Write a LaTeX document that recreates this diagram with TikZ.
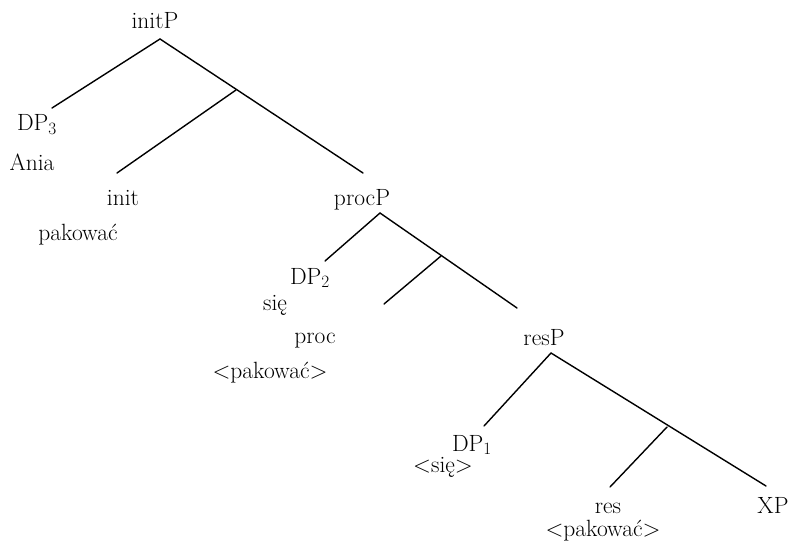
\documentclass[tikz,border=0pt]{standalone}
\begin{document}
\begin{tikzpicture}[x=1pt,y=-1pt,
  lbl/.style={anchor=base,inner sep=0pt,font=\fontsize{23.5}{27}\selectfont},
  branch/.style={line width=1.4pt,line cap=round}]
\useasboundingbox (0,0) rectangle (791,540);
% labels
\node[lbl] (initP) at (155,29) {initP};
\node[lbl] (dp3) at (37,131) {DP$_3$};
\node[lbl] (ania) at (32,170) {Ania};
\node[lbl] (init) at (123,205) {init};
\node[lbl] (pak1) at (78,240) {pakować};
\node[lbl] (procP) at (362,205) {procP};
\node[lbl] (dp2) at (310,284) {DP$_2$};
\node[lbl] (sie1) at (275,310) {się};
\node[lbl] (proc) at (315,343) {proc};
\node[lbl] (pak2) at (270,378) {<pakować>};
\node[lbl] (resP) at (544,345) {resP};
\node[lbl] (dp1) at (472,451) {DP$_1$};
\node[lbl] (sie2) at (443,472) {<się>};
\node[lbl] (res) at (608,513) {res};
\node[lbl] (pak3) at (603,536) {<pakować>};
\node[lbl] (xp) at (773,513) {XP};
% branch points
\coordinate (a0) at (160,39);
\coordinate (a1) at (52,108);
\coordinate (a2) at (363,173);
\coordinate (a3) at (236,90);
\coordinate (a4) at (117,173);
\coordinate (b0) at (380,213);
\coordinate (b1) at (325,261);
\coordinate (b2) at (517,308);
\coordinate (b3) at (441,256);
\coordinate (b4) at (384,304);
\coordinate (c0) at (551,353);
\coordinate (c1) at (484,426);
\coordinate (c2) at (766,486);
\coordinate (c3) at (667,427);
\coordinate (c4) at (610,487);
\draw[branch] (a1) -- (a0) -- (a2);
\draw[branch] (a3) -- (a4);
\draw[branch] (b1) -- (b0) -- (b2);
\draw[branch] (b3) -- (b4);
\draw[branch] (c1) -- (c0) -- (c2);
\draw[branch] (c3) -- (c4);
\end{tikzpicture}
\end{document}
